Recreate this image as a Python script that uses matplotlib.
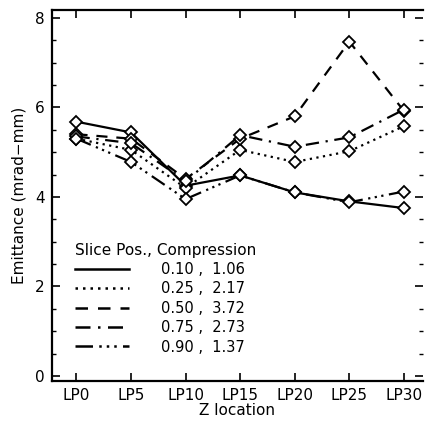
import matplotlib
matplotlib.use("Agg")
import matplotlib.pyplot as plt
from matplotlib.ticker import MultipleLocator
from matplotlib.lines import Line2D
import numpy as np

locations = ["LP0", "LP5", "LP10", "LP15", "LP20", "LP25", "LP30"]
slice_pos = ["0.10", "0.25", "0.50", "0.75", "0.90"]
compression = ["1.06", "2.17", "3.72", "2.73", "1.37"]

emit_010 = [5.68, 5.44, 4.25, 4.48, 4.10, 3.90, 3.75]
emit_025 = [5.30, 5.05, 4.20, 5.05, 4.78, 5.02, 5.58]
emit_050 = [5.40, 5.30, 4.40, 5.30, 5.80, 7.47, 5.92]
emit_075 = [5.35, 5.20, 4.35, 5.38, 5.12, 5.33, 5.95]
emit_090 = [5.30, 4.78, 3.95, 4.48, 4.10, 3.88, 4.12]

series = [emit_010, emit_025, emit_050, emit_075, emit_090]
styles = ["-", (0, (1, 2)), (0, (5, 4)), (0, (6, 3, 1, 3)), (0, (7, 2.5, 1, 2, 1, 2, 1, 2.5))]

plt.rcParams["font.family"] = ["DejaVu Sans"]
fig = plt.figure(figsize=(4.29, 4.26), dpi=100)
ax = fig.add_axes([0.121, 0.106, 0.865, 0.871])

x = np.arange(len(locations))
for ys, ls in zip(series, styles):
    ax.plot(x, ys, color="black", linestyle=ls, linewidth=1.6,
            marker="D", markersize=5.8, markerfacecolor="white",
            markeredgecolor="black", markeredgewidth=1.3)

proxies = [Line2D([0], [0], color="black", linestyle=ls, linewidth=1.8) for ls in styles]
labels = [f"{sp} ,  {cp}" for sp, cp in zip(slice_pos, compression)]
leg = ax.legend(proxies, labels, title="Slice Pos., Compression", loc="upper left",
                bbox_to_anchor=(0.035, 0.40), frameon=False, fontsize=10.5,
                title_fontsize=11, handlelength=3.7, handletextpad=2.2,
                labelspacing=0.3, alignment="left", borderpad=0.2)

ax.set_xlim(-0.45, 6.35)
ax.set_ylim(-0.11, 8.18)
ax.set_xticks(x)
ax.set_xticklabels(locations, fontsize=11)
ax.set_yticks([0, 2, 4, 6, 8])
ax.set_yticklabels(["0", "2", "4", "6", "8"], fontsize=11)
ax.yaxis.set_minor_locator(MultipleLocator(0.5))
ax.tick_params(axis="both", which="major", direction="in", length=6, width=1.2,
               top=True, right=True, pad=5)
ax.tick_params(axis="y", which="minor", direction="in", length=3, width=1.0,
               left=True, right=True)
ax.spines["right"].set_visible(False)
for s in ["left", "top", "bottom"]:
    ax.spines[s].set_linewidth(1.6)

ax.set_xlabel("Z location", fontsize=11, labelpad=0)
ax.set_ylabel("Emittance (mrad\u2212mm)", fontsize=11, labelpad=6)

fig.savefig("out.png", dpi=100)
